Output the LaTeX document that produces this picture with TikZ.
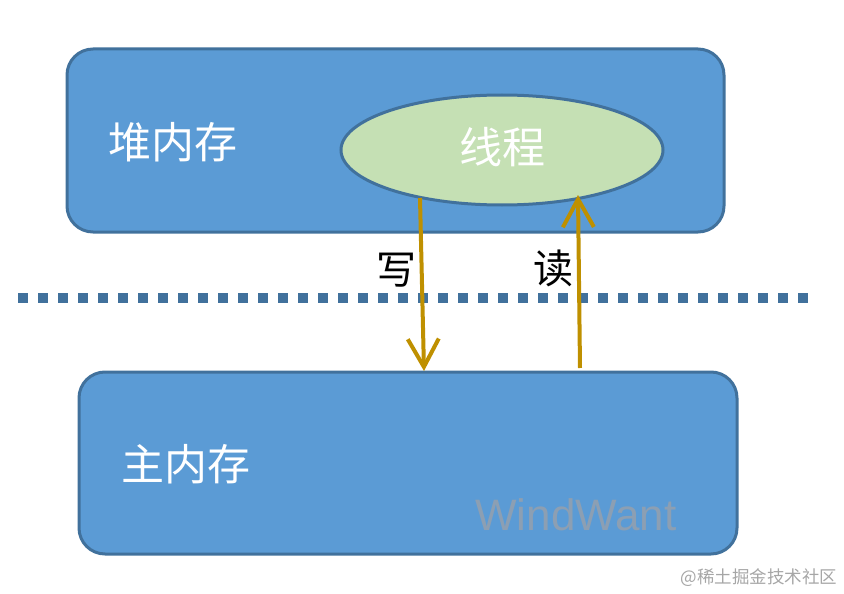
\documentclass[tikz,border=0pt]{standalone}
\usepackage{fontspec}
\newfontfamily\cjk{Noto Sans CJK SC}
\newfontfamily\lsans{Liberation Sans}
\usetikzlibrary{arrows.meta,shapes.geometric}
\definecolor{boxfill}{HTML}{5B9BD5}
\definecolor{boxline}{HTML}{41719C}
\definecolor{ellfill}{HTML}{C5E0B4}
\definecolor{arrowcol}{HTML}{BF9000}
\definecolor{wmark}{HTML}{8C9FB3}
\definecolor{wmark2}{HTML}{A6A6A6}
\tikzset{
  membox/.style={draw=boxline, fill=boxfill, line width=3pt, rounded corners=26pt},
  cjklabel/.style={font=\cjk\fontsize{43}{43}\selectfont, text=white, inner sep=0pt},
  rwlabel/.style={font=\cjk\fontsize{40}{40}\selectfont, text=black, inner sep=0pt},
  rwarrow/.style={draw=arrowcol, line width=4pt, -{Straight Barb[length=28pt, width=31pt, line width=4pt]}}
}
\begin{document}
\begin{tikzpicture}[x=1pt,y=-1pt]
\useasboundingbox (0,0) rectangle (844,594);
% boxes
\draw[membox] (67,49) rectangle (724,232);
\draw[membox] (79,372) rectangle (737,554);
% ellipse
\node[draw=boxline, fill=ellfill, line width=3pt, ellipse, minimum width=322pt, minimum height=110pt, inner sep=0pt] (thread) at (502,150) {};
\node[cjklabel] (threadtxt) at (502,147) {线程};
\node[cjklabel, anchor=center] (heap) at (173,142) {堆内存};
\node[cjklabel, anchor=center] (mainmem) at (186,464) {主内存};
% dotted separator
\coordinate (d1) at (18,298);
\coordinate (d2) at (815,298);
\draw[draw=boxline, line width=10pt, dash pattern=on 10pt off 10pt] (d1) -- (d2);
% arrows
\coordinate (w1) at (420,198);
\coordinate (w2) at (424,371);
\coordinate (r1) at (580,368);
\coordinate (r2) at (578,195);
\draw[rwarrow] (w1) -- (w2);
\draw[rwarrow] (r1) -- (r2);
\node[rwlabel] (write) at (396,270) {写};
\node[rwlabel] (read) at (553,268) {读};
% watermarks
\node[font=\lsans\fontsize{44}{44}\selectfont, text=wmark, inner sep=0pt] (ww) at (576,515) {WindWant};
\node[font=\cjk\fontsize{17.5}{17.5}\selectfont, text=wmark2, inner sep=0pt] (wm2) at (759,578) {@稀土掘金技术社区};
\end{tikzpicture}
\end{document}
